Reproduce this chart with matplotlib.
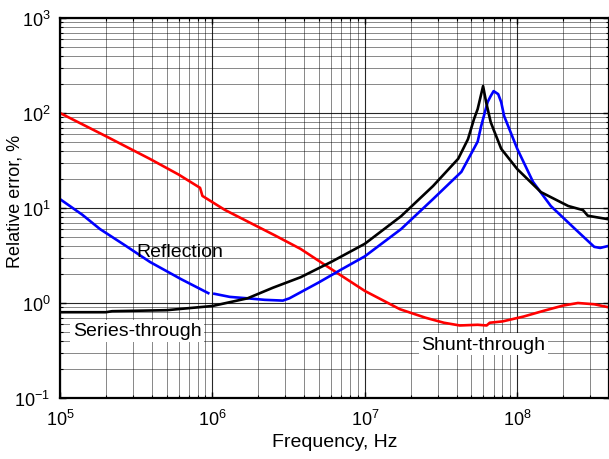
import matplotlib
matplotlib.use("Agg")
import matplotlib.pyplot as plt
import numpy as np
from matplotlib.ticker import LogLocator, NullFormatter

plt.rcParams['font.family'] = ['Liberation Sans', 'DejaVu Sans']
plt.rcParams['mathtext.fontset'] = 'custom'
plt.rcParams['mathtext.rm'] = 'Liberation Sans'
plt.rcParams['mathtext.it'] = 'Liberation Sans:italic'

# ── Dados ──────────────────────────────────────────────────
# curva vermelha (Shunt-through)
f_red = [1e5, 2e5, 3.9e5, 6e5, 8.3e5, 8.6e5, 1.2e6, 1.78e6, 2.6e6, 3.8e6,
         6.3e6, 1e7, 1.7e7, 2.5e7, 3.3e7, 4.2e7, 5.5e7, 6.3e7, 6.6e7, 8e7,
         1.1e8, 1.5e8, 2e8, 2.5e8, 3.2e8, 4e8]
y_red = [100, 57, 32.8, 22.5, 16.3, 13.4, 9.6, 6.95, 5.1, 3.7,
         2.17, 1.34, 0.86, 0.7, 0.62, 0.58, 0.59, 0.58, 0.62, 0.64,
         0.72, 0.83, 0.94, 1.0, 0.97, 0.9]

# curva azul (Reflection) — tem um buraco perto de 1 MHz
f_blue = [1e5, 1.4e5, 1.83e5, 2.7e5, 3.9e5, 6.2e5, 9.4e5, 9.7e5, 1.03e6, 1.3e6,
          1.7e6, 2.2e6, 2.9e6, 3.2e6, 3.8e6, 5e6, 7e6, 1e7, 1.73e7, 2.8e7,
          4.3e7, 5.5e7, 5.8e7, 6.4e7, 6.7e7, 7e7, 7.5e7, 7.85e7, 8.2e7, 1e8,
          1.27e8, 1.66e8, 2.4e8, 3.2e8, 3.5e8, 4e8]
y_blue = [12.4, 8.5, 6.0, 4.0, 2.7, 1.79, 1.27, np.nan, 1.25, 1.16,
          1.12, 1.08, 1.06, 1.12, 1.3, 1.65, 2.25, 3.1, 6.0, 12.4,
          24, 50, 73, 131, 151, 170, 158, 130, 93, 42,
          18.8, 10.5, 6.0, 3.9, 3.8, 4.0]

# curva preta (Series-through)
f_black = [1e5, 2e5, 2.2e5, 5e5, 1e6, 1.7e6, 2.5e6, 3.8e6, 6e6, 1e7,
           1.73e7, 2.8e7, 4.1e7, 4.75e7, 5.2e7, 5.5e7, 5.97e7, 6.25e7, 6.7e7, 7.1e7,
           7.85e7, 1e8, 1.43e8, 2.16e8, 2.7e8, 2.9e8, 3.3e8, 4e8]
y_black = [0.8, 0.8, 0.82, 0.84, 0.93, 1.12, 1.45, 1.87, 2.7, 4.2,
           8.2, 17, 33, 53, 86, 110, 192, 130, 80, 63,
           42, 25.7, 14.7, 10.5, 9.5, 8.3, 8.0, 7.6]

fig = plt.figure(figsize=(6.09, 4.60), dpi=100)
ax = fig.add_axes([0.0985, 0.1326, 0.9015, 0.8261])

ax.plot(f_red, y_red, color='#ff0000', lw=1.9)
ax.plot(f_blue, y_blue, color='#0000ff', lw=1.9)
ax.plot(f_black, y_black, color='black', lw=1.9)

ax.set_xscale('log')
ax.set_yscale('log')
ax.set_xlim(1e5, 4e8)
ax.set_ylim(1e-1, 1e3)

ax.xaxis.set_major_locator(LogLocator(base=10, numticks=10))
ax.xaxis.set_minor_locator(LogLocator(base=10, subs=np.arange(2, 10), numticks=20))
ax.yaxis.set_major_locator(LogLocator(base=10, numticks=10))
ax.yaxis.set_minor_locator(LogLocator(base=10, subs=np.arange(2, 10), numticks=20))
ax.xaxis.set_minor_formatter(NullFormatter())
ax.yaxis.set_minor_formatter(NullFormatter())

ax.grid(True, which='major', color='black', lw=0.8, alpha=0.85)
ax.grid(True, which='minor', color='black', lw=0.6, alpha=0.55)
ax.set_axisbelow(True)

ax.tick_params(which='both', direction='in', top=True, right=True, labelsize=13)
ax.tick_params(axis='x', pad=8)
ax.tick_params(axis='y', pad=7)
ax.tick_params(which='major', length=4, width=1)
ax.tick_params(which='minor', length=2.5, width=0.8)
for s in ax.spines.values():
    s.set_linewidth(1.6)

ax.set_xlabel('Frequency, Hz', fontsize=14)
ax.set_ylabel('Relative error, %', fontsize=13)
ax.xaxis.set_label_coords(0.5, -0.092)
ax.yaxis.set_label_coords(-0.067, 0.521)

# rótulos das curvas
ax.text(6.1e5, 3.5, 'Reflection', fontsize=14, ha='center', va='center')
ax.text(3.2e5, 0.51, 'Series-through', fontsize=14, ha='center', va='center',
        bbox=dict(facecolor='white', edgecolor='none', pad=2))
ax.text(6.0e7, 0.37, 'Shunt-through', fontsize=14, ha='center', va='center',
        bbox=dict(facecolor='white', edgecolor='none', pad=2))

fig.savefig('out.png', dpi=100)
